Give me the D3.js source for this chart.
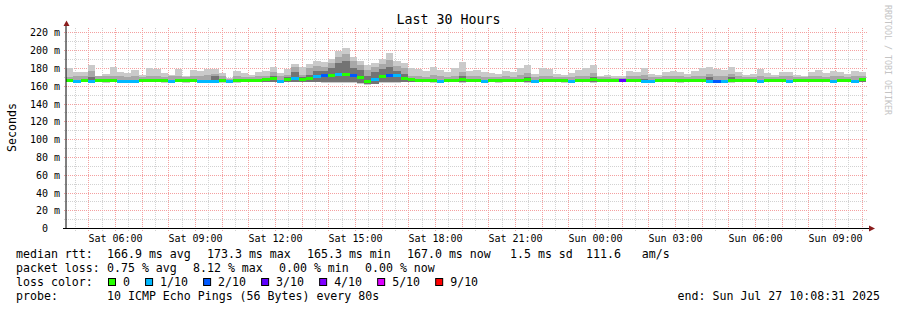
<!DOCTYPE html>
<html><head><meta charset="utf-8">
<script src="https://cdn.jsdelivr.net/npm/d3@7"></script>
<style>
body{margin:0;background:#fff}
svg text{font-family:"DejaVu Sans Mono",monospace;white-space:pre;fill:#000}
</style>
</head><body>
<svg id="c" width="897" height="310"></svg>
<script>
// ---------------- data ----------------
const titleText = "Last 30 Hours";
const yAxisTitle = "Seconds";
const endTimeStr = "2025-07-27T10:08:31";
const spanHours = 30;

// median rtt per bin (ms)
const median = [
166.5,165.5,166.5,165.5,166.5,166.5,166.8,165.5,165.5,165.5,
166.5,166.5,166.5,166.5,165.5,166.5,166.5,166.5,165.5,165.5,
165.5,166.5,165.5,166.5,166.5,166.5,166.8,168,168.5,165.5,168,
168.5,167.5,169,171,172,172.5,173,173.3,172,170,165.3,167,171,172.5,171.5,169,167.5,
166.6,166.5,166.8,165.5,166.5,166.6,167.2,166.5,166.5,165.5,
166.4,166.4,166.5,166.5,166.8,167,165.5,166.6,166.5,166.4,
166.4,165.5,166.5,166.6,167,166.3,166.3,166.2,166,166.5,
166.5,165.5,165.5,166.4,166.5,166.5,166.5,166.4,166.5,166.6,
165.5,165.6,165.5,166.8,166.5,166.4,166.4,165.5,166.5,166.4,
166.5,165.5,166.4,166.3,166.5,166.6,166.5,165.5,166.5,166.4,
165.5,167.0];

// lost pings (of 10) per bin
const loss = [
0,1,0,1,0,0,0,1,1,1, 0,0,0,0,1,0,0,0,1,1, 1,0,1,0,0,0,0,0,0,1, 0,
1,0,0,1,2,0,1,0,2,0,0,1,0,2,1,0,0,
0,0,0,1,0,0,0,0,0,1, 0,0,0,0,0,0,1,0,0,0, 0,1,0,0,0,0,0,0,3,0,
0,1,1,0,0,0,0,0,0,0, 1,2,1,0,0,0,0,1,0,0, 0,1,0,0,0,0,0,1,0,0, 1,0];

// outer smoke (lowest / highest ping)
const pingLow = [
164.5,164,164.5,164.5,164.5,164,164.5,164.5,164.5,164.5,
164.5,164.5,164.5,164,164.5,164.5,163.5,164.5,164.5,164.5,
164.5,164,164.5,163.5,164.5,164.5,164.5,164.5,165,164.5,164.5,
165,164.5,164.5,164.5,164,164,163.5,163.5,163.5,163,161.5,162.5,163.5,164,164,164.5,164.5,
164.5,164.5,164,164.5,164.5,164.5,164,164.5,164.5,164.5,
164.5,164,164.5,164.5,164.5,164,164.5,164.5,164.5,164.5,
164,164.5,164.5,164.5,164,164.5,164.5,164.5,164.5,164.5,
164.5,164,164.5,164.5,164.5,164.5,164,164.5,164.5,164.5,
164,164.5,164.5,164,164.5,164.5,164.5,164.5,164.5,164.5,
164.5,164,164.5,164.5,164.5,164.5,164.5,164,164.5,164.5,
164.5,164.5];
const pingHigh = [
181,175.5,176.5,184,172,174,182,175.5,174.5,178.5,
173,180.5,179,174.5,173,179.5,172,178.5,177,179.5,
179.5,174.5,169,177,174.5,173,175.5,177,182,174.5,179,
185.5,182,185,188,187,190,199,203,193,188,184,186,190,197,188,186,180,
179,177,182,178,176,180,187,177,178,176,
175,174,177,176,181,184,174,180,179,174,
173,175,178,180,184,172,173,171,171,177,
176,181,174,173,176,177,176,174,177,180,
182,179,178,182,176,173,174,179,175,173,
176,176,173,172,176,178,175,177,176,174,
177,176];
// inner smoke bottom (shared by middle and inner layers)
const pingLowInner = [
165,164.8,165,164.8,165,165,165,164.8,164.8,165,
165,165,165,165,164.8,165,165,165,164.8,164.8,
165,165,164.8,165,165,165,165,165,165.2,164.8,165.2,
165,165,165,164.8,164.5,164.5,164.5,164.3,164.5,164,162,163,164.5,164.5,164.8,165,165,
165,165,165,164.8,165,165,165,165,165,164.8,
165,165,165,165,165,165,164.8,165,165,165,
165,164.8,165,165,165,165,165,165,164.8,165,
165,164.8,164.8,165,165,165,165,165,165,165,
164.8,164.8,164.8,165,165,165,165,164.8,165,165,
165,164.8,165,165,165,165,165,164.8,165,165,
164.8,165];
// middle smoke top
const pingHighMid = [
170.5,171,171,177,171.5,172,171,171,170.5,171,
170.5,172,171,170.5,171,171.5,170,171,171,172.5,
174,171,168.5,171,170.5,170.5,171,171,176,171,173,
182,173,180,183,182,186,193,196,188,184,178,182,185,189,183,180,172,
171,170.5,173,171,170.5,172,176,171,171,170.5,
170,170,171,170.5,173,175,170,172,171,170,
170,170.5,171,172,175,170,170,169.5,169.5,171,
171,173,170,170,171,171,171,170,171,172,
174,172,171,174,171,170,170,172,170.5,170,
171,171,170,170,171,172,170.5,171,171,170,
171,171];
// inner (dark) smoke top
const pingHighInner = [
167.3,167.3,167.3,170,167.3,167.5,167.3,167.3,167.3,167.3,
167.3,167.5,167.3,167.3,167.3,167.3,167.3,167.3,167.3,167.5,
172,167.3,167,167.3,167.3,167.3,167.5,169,172,167.3,170,
176,170,173,177,177,181,186,188,181,178,172,176,179,182,177,174,169,
167.3,167.3,168,167.3,167.3,167.3,171,167.3,167.3,167.3,
167.3,167.3,167.3,167.3,168,170,167.3,167.5,167.3,167.3,
167.3,167.3,167.3,167.5,170,167.3,167.3,167,167.3,167.3,
167.3,168,167.3,167.3,167.3,167.3,167.3,167.3,167.3,167.5,
170,167.5,167.3,170,167.3,167.3,167.3,167.5,167.3,167.3,
167.3,167.3,167.3,167.3,167.3,167.5,167.3,167.3,167.3,167.3,
167.3,167.3];

const yTickValues = [0,20,40,60,80,100,120,140,160,180,200,220];
const yTickLabels = ["0  ","20 m","40 m","60 m","80 m","100 m","120 m","140 m","160 m","180 m","200 m","220 m"];
const xTickTimes = ["2025-07-26T06:00:00","2025-07-26T09:00:00","2025-07-26T12:00:00","2025-07-26T15:00:00",
  "2025-07-26T18:00:00","2025-07-26T21:00:00","2025-07-27T00:00:00","2025-07-27T03:00:00",
  "2025-07-27T06:00:00","2025-07-27T09:00:00"];
const xTickLabels = ["Sat 06:00","Sat 09:00","Sat 12:00","Sat 15:00","Sat 18:00","Sat 21:00",
  "Sun 00:00","Sun 03:00","Sun 06:00","Sun 09:00"];

const lossLevels = [0,1,2,3,4,5,9];
const lossLabels = ["0","1/10","2/10","3/10","4/10","5/10","9/10"];
const lossColors = ["#26ff00","#00b8ff","#0059ff","#5e00ff","#7e00ff","#dd00ff","#ff0000"];

const rttStats = ["166.9 ms avg","173.3 ms max","165.3 ms min","167.0 ms now","1.5 ms sd","111.6   am/s"];
const lossStats = ["0.75 % avg","8.12 % max","0.00 % min","0.00 % now"];
const probeText = "10 ICMP Echo Pings (56 Bytes) every 80s";
const endText = "end: Sun Jul 27 10:08:31 2025";
const watermark = "RRDTOOL / TOBI OETIKER";

// ---------------- chart ----------------
const parse = d3.timeParse("%Y-%m-%dT%H:%M:%S");
const endT = parse(endTimeStr);
const startT = new Date(+endT - spanHours * 3600e3);
const n = median.length;
const edges = d3.range(n + 1).map(i => new Date(+startT + i * (endT - startT) / n));

const x = d3.scaleTime().domain([startT, endT]).range([66, 866]);
const y = d3.scaleLinear().domain([0, 226.6]).range([228.7, 26.9]);

const svg = d3.select("#c");
const GRID = "#d2d2d2";
const MGRID = "#f4a0a0";

// dotted grid via 1-pixel patterns
const defs = svg.append("defs");
function pat(id, w, h, color) {
  const p = defs.append("pattern").attr("id", id).attr("patternUnits", "userSpaceOnUse")
    .attr("x", 0).attr("y", 0).attr("width", w).attr("height", h);
  p.append("rect").attr("x", 0).attr("y", 0).attr("width", 1).attr("height", 1).attr("fill", color);
}
pat("hG", 2, 1, GRID); pat("hR", 2, 1, MGRID);
pat("vG", 1, 2, GRID); pat("vR", 1, 2, MGRID);

const gGrid = svg.append("g").attr("shape-rendering", "crispEdges");
const hours = d3.timeHour.range(d3.timeHour.ceil(startT), endT);
const halves = d3.timeMinute.every(30).range(startT, endT).filter(d => d.getMinutes() === 30);
const fx = t => Math.floor(x(t));
const fy = v => Math.floor(y(v));
const py = v => fy(v) + 0.5;
const yMinor = y.ticks(23).filter(v => v > 0 && v % 20 !== 0);
const yMajor = yTickValues.filter(v => v > 0);
gGrid.append("g").selectAll("rect").data(halves).join("rect")
  .attr("x", fx).attr("width", 1).attr("y", 27).attr("height", 204).attr("fill", "url(#vG)");
gGrid.append("g").selectAll("rect").data(yMinor).join("rect")
  .attr("x", 63).attr("width", 805).attr("y", fy).attr("height", 1).attr("fill", "url(#hG)");
gGrid.append("g").selectAll("rect").data(hours).join("rect")
  .attr("x", fx).attr("width", 1).attr("y", 27).attr("height", 204).attr("fill", "url(#vR)");
gGrid.append("g").selectAll("rect").data(yMajor).join("rect")
  .attr("x", 63).attr("width", 805).attr("y", fy).attr("height", 1).attr("fill", "url(#hR)");

// smoke
const gData = svg.append("g").attr("shape-rendering", "crispEdges");
const idx = d3.range(n);
function layer(lo, hi, color) {
  gData.append("g").selectAll("rect").data(idx).join("rect")
    .attr("x", i => Math.round(x(edges[i])))
    .attr("width", i => Math.round(x(edges[i + 1])) - Math.round(x(edges[i])))
    .attr("y", i => Math.round(y(hi[i])))
    .attr("height", i => Math.max(0, Math.round(y(lo[i])) - Math.round(y(hi[i]))))
    .attr("fill", color);
}
layer(pingLow, pingHigh, "#cacaca");
layer(pingLowInner, pingHighMid, "#a8a8a8");
layer(pingLowInner, pingHighInner, "#737373");

function lossColor(l) {
  for (let k = 0; k < lossLevels.length; k++) if (l <= lossLevels[k]) return lossColors[k];
  return lossColors[lossColors.length - 1];
}
gData.append("g").selectAll("rect").data(idx).join("rect")
  .attr("x", i => Math.round(x(edges[i])))
  .attr("width", i => Math.round(x(edges[i + 1])) - Math.round(x(edges[i])))
  .attr("y", i => Math.round(y(median[i]) - 1.5))
  .attr("height", 3)
  .attr("fill", i => lossColor(loss[i]));

// axes
svg.append("line").attr("x1", 66).attr("x2", 66).attr("y1", 228.7).attr("y2", 24).attr("stroke", "#000");
svg.append("line").attr("x1", 63).attr("x2", 870).attr("y1", 228.5).attr("y2", 228.5).attr("stroke", "#000");
svg.append("path").attr("d", "M63.5,26L69.5,26L66.5,20.5Z").attr("fill", "#8a1c1c");
svg.append("path").attr("d", "M869,225.5L869,231.5L875,228.5Z").attr("fill", "#8a1c1c");

// y tick labels
svg.append("g").selectAll("text").data(yTickValues).join("text")
  .attr("x", 60).attr("y", v => py(v) + 3.5)
  .attr("text-anchor", "end").attr("font-size", "10px")
  .text((v, i) => yTickLabels[i]);

// x tick labels
svg.append("g").selectAll("text").data(xTickTimes).join("text")
  .attr("x", s => fx(parse(s)) + 0.5)
  .attr("y", 241.5).attr("text-anchor", "middle").attr("font-size", "10px")
  .text((s, i) => xTickLabels[i]);

// titles
svg.append("text").attr("x", 448.5).attr("y", 24).attr("text-anchor", "middle")
  .attr("font-size", "13.3px").text(titleText);
svg.append("text").attr("transform", "translate(15.5,127.5) rotate(-90)")
  .attr("text-anchor", "middle").attr("font-size", "11.6px").text(yAxisTitle);
svg.append("text").attr("transform", "translate(884.5,5) rotate(90)")
  .attr("font-size", "8.3px").style("fill", "#c4c4c4").text(watermark);

// legend
const FS = "11.6px";
const leg = svg.append("g").attr("font-size", FS);
leg.append("text").attr("x", 16).attr("y", 258.3).text("median rtt:");
const rttX = [107, 207, 307, 407, 510, 586];
leg.selectAll(".rtt").data(rttStats).join("text").attr("class", "rtt")
  .attr("x", (d, i) => rttX[i]).attr("y", 258.3).text(d => d);
leg.append("text").attr("x", 16).attr("y", 272).text("packet loss:");
const lossX = [107, 193, 279, 365];
leg.selectAll(".ls").data(lossStats).join("text").attr("class", "ls")
  .attr("x", (d, i) => lossX[i]).attr("y", 272).text(d => d);
leg.append("text").attr("x", 16).attr("y", 286.2).text("loss color:");
let bx = 108.5;
lossLabels.forEach((lab, i) => {
  leg.append("rect").attr("x", bx).attr("y", 278.5).attr("width", 7).attr("height", 7)
    .attr("fill", lossColors[i]).attr("stroke", "#000").attr("stroke-width", 1);
  const lx = bx + 14.5;
  leg.append("text").attr("x", lx).attr("y", 286.2).text(lab);
  bx = lx + lab.length * 6.98 + 15.6;
});
leg.append("text").attr("x", 16).attr("y", 300).text("probe:");
leg.append("text").attr("x", 107).attr("y", 300).text(probeText);
leg.append("text").attr("x", 880).attr("y", 300).attr("text-anchor", "end").text(endText);
</script>
</body></html>
